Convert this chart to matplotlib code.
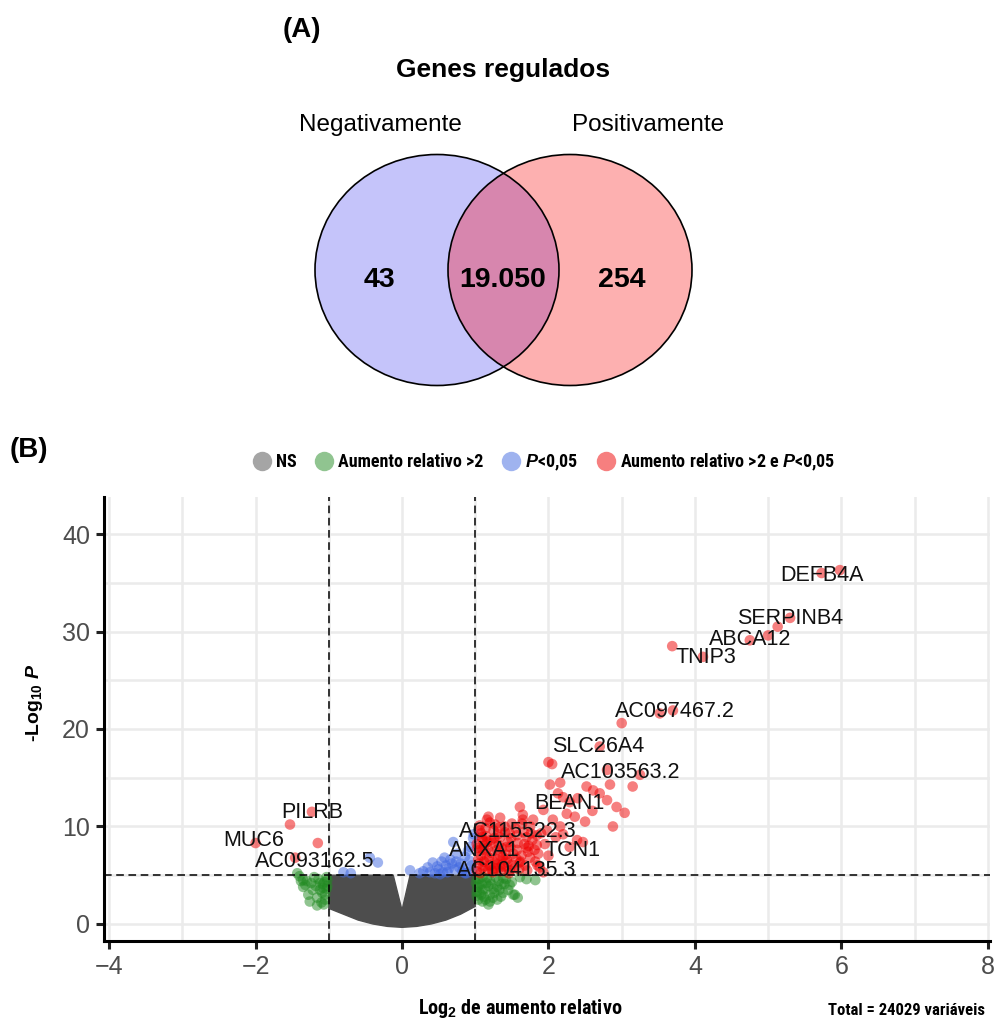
# -*- coding: utf-8 -*-
"""Venn diagram of regulated genes (A) and volcano plot (B)."""

import matplotlib
matplotlib.use('Agg')
import matplotlib.pyplot as plt
from matplotlib.patches import Ellipse
from matplotlib.lines import Line2D

plt.rcParams['font.family'] = ['Liberation Sans', 'DejaVu Sans']
plt.rcParams['mathtext.fontset'] = 'custom'
plt.rcParams['mathtext.rm'] = 'Liberation Sans'
plt.rcParams['mathtext.it'] = 'Liberation Sans:italic:bold'
plt.rcParams['mathtext.bf'] = 'Liberation Sans:bold'

# narrow bold text like the ggplot legend / axis titles
NARROW = ['Roboto Condensed', 'PT Sans Narrow', 'Archivo Narrow', 'Liberation Sans']

# %% Data

# Venn (A)
venn_sets = ['Negativamente', 'Positivamente']
venn_counts = ['43', '19.050', '254']  # only neg, both, only pos

# Volcano (B)
# NS cloud outline (log2FC, -log10 P)
ns_x = [-1.0, -0.12, 0.0, 0.11, 1.0, 1.0, 0.8, 0.6, 0.4, 0.2, 0.0, -0.2, -0.4, -0.6, -0.8, -1.0]
ns_y = [5.0, 5.0, 1.4, 5.0, 5.0, 1.8, 1.0, 0.4, 0.0, -0.25, -0.35, -0.25, 0.0, 0.4, 1.0, 1.6]

green_x = [-1.43, -1.35, -1.30, -1.22, -1.35, -1.16, -1.26, -1.08, -1.05, -1.12,
           -1.16, -1.12, -1.08, -1.05, -1.02, -1.20, -1.28, -1.10, -1.40, -1.03,
           1.10, 1.20, 1.38, 1.82, 1.52, 1.58, 1.38, 1.30, 1.10, 1.04,
           1.20, 1.61, 1.47, 1.54, 1.24, 1.10, 1.05, 1.08, 1.15, 1.25,
           1.32, 1.42, 1.50, 1.02, 1.12, 1.18, 1.28, 1.35, 1.45, 1.70,
           1.03, 1.20, 1.01, 1.03, 1.06, 1.09, 1.13, 1.16, 1.22, 1.26,
           1.33, 1.40, 1.06, 1.14, 1.02, 1.18, 1.30, 1.36, -1.03, -1.06,
           -1.09, -1.14, -1.18, -1.24, -1.32, -1.38, -1.02, -1.07]
green_y = [5.2, 4.5, 4.4, 3.5, 3.8, 2.7, 2.3, 3.7, 3.0, 4.2,
           1.9, 3.5, 4.1, 2.5, 4.5, 4.8, 3.0, 2.2, 4.9, 3.6,
           4.8, 4.5, 4.7, 4.5, 3.0, 2.7, 3.2, 3.8, 3.5, 2.5,
           2.3, 4.8, 4.0, 3.0, 2.7, 2.3, 4.0, 3.0, 4.2, 3.6,
           4.4, 4.6, 4.3, 3.3, 2.8, 3.9, 4.8, 2.8, 3.5, 4.6,
           4.6, 3.0, 4.2, 3.8, 4.6, 4.1, 3.6, 4.7, 4.1, 3.2,
           3.5, 4.1, 3.2, 2.5, 2.9, 2.0, 2.5, 4.1, 4.8, 4.3,
           3.2, 4.6, 3.9, 4.2, 4.0, 4.4, 3.9, 2.0]

blue_x = [-0.80, -0.44, -0.33, -0.70, 0.11, 0.29, 0.35, 0.42, 0.50, 0.54,
          0.60, 0.66, 0.70, 0.75, 0.80, 0.86, 0.90, 0.93, 0.97, 0.62,
          0.45, 0.82, 0.95, 0.72, 0.88, 0.98, 0.38, 0.48, 0.56, 0.64,
          0.68, 0.74, 0.78, 0.84, 0.92, 0.96, 0.52, 0.58, 0.86, 0.24]
blue_y = [5.3, 6.8, 6.3, 5.2, 5.5, 5.4, 5.8, 6.3, 5.6, 6.4,
          6.0, 6.6, 8.4, 7.2, 6.2, 6.9, 7.5, 7.9, 8.8, 5.3,
          5.2, 5.4, 6.0, 5.6, 5.2, 9.2, 5.3, 5.9, 5.3, 5.7,
          6.2, 6.4, 5.8, 5.6, 6.5, 5.5, 5.1, 6.8, 5.2, 5.2]

red_x = [5.98, 5.73, 5.30, 5.13, 5.00, 4.75, 3.69, 4.11, 3.52, 3.70,
         3.00, 2.70, 2.00, 2.05, 2.80, 3.25, 2.02, 2.16, 2.52, 2.84,
         3.15, 2.61, 2.70, 2.13, 2.80, 2.93, 3.04, 2.29, 2.36, 2.50,
         2.88, 1.61, 1.93, 1.34, 1.20, 1.65, 1.79, 2.06, 2.16, 1.98,
         1.84, 1.70, 1.47, 1.34, 2.39, 2.47, 2.29, 1.84, 1.70, 1.57,
         1.43, 1.24, 1.10, 1.06, 1.16, 1.30, 1.43, 1.75, 1.61, 1.34,
         1.10, 1.24, 1.47, 1.88, 1.93, 1.06, 1.16,
         1.02, 1.05, 1.08, 1.12, 1.15, 1.18, 1.20, 1.22, 1.25, 1.27,
         1.30, 1.32, 1.35, 1.38, 1.40, 1.42, 1.45, 1.50, 1.52, 1.55,
         1.58, 1.60, 1.63, 1.66, 1.68, 1.72, 1.75, 1.78, 1.82, 1.86,
         1.90, 1.95, 2.00, 2.10, 2.20, 2.25, 1.12, 1.28, 1.50, 1.65,
         2.40, 2.60, 2.20, 1.02, 1.08, 1.18,
         1.04, 1.07, 1.10, 1.13, 1.16, 1.19, 1.23, 1.26, 1.29, 1.33,
         1.36, 1.39, 1.44, 1.48, 1.53, 1.57, 1.62, 1.67, 1.71, 1.76,
         1.81, 1.85, 1.03, 1.09, 1.14, 1.21, 1.27, 1.34, 1.41, 1.46,
         1.56, 1.64, 1.73, 1.06, 1.17, 1.31, 1.37, 1.49,
         -1.23, -1.53, -2.00, -1.15, -1.46]
red_y = [36.3, 36.0, 31.4, 30.5, 29.6, 29.1, 28.5, 27.4, 21.6, 21.9,
         20.6, 18.2, 16.6, 16.4, 15.8, 15.3, 14.3, 14.5, 14.1, 14.3,
         14.1, 13.7, 13.4, 13.4, 12.7, 12.0, 11.4, 12.5, 11.0, 10.5,
         10.0, 12.0, 11.7, 10.9, 10.4, 10.7, 10.7, 10.7, 10.0, 9.6,
         9.1, 8.9, 9.3, 8.9, 8.6, 8.4, 7.9, 8.1, 7.8, 7.6,
         7.9, 8.3, 8.6, 7.6, 6.9, 6.6, 6.6, 6.8, 6.3, 5.8,
         5.8, 5.3, 5.5, 5.8, 5.3, 9.6, 10.7,
         5.4, 6.2, 7.0, 8.0, 9.0, 5.6, 6.0, 7.3, 9.6, 6.3,
         7.6, 8.1, 5.4, 6.9, 10.0, 7.1, 8.4, 6.1, 7.2, 9.8,
         8.3, 5.6, 7.0, 9.4, 6.0, 7.4, 10.0, 8.6, 6.4, 7.2,
         9.3, 8.2, 7.0, 8.9, 9.2, 11.3, 6.4, 5.7, 10.3, 11.2,
         12.9, 11.6, 13.0, 8.2, 9.3, 11.0,
         6.6, 5.2, 7.6, 5.9, 8.4, 6.8, 5.5, 8.8, 6.1, 9.9,
         7.8, 5.9, 6.3, 7.9, 5.7, 9.1, 6.4, 8.2, 5.5, 9.3,
         7.6, 6.0, 7.8, 8.9, 9.8, 8.6, 10.2, 7.0, 9.4, 5.2,
         6.7, 10.3, 8.0, 10.1, 7.8, 9.2, 6.1, 8.8,
         11.5, 10.2, 8.3, 8.3, 6.8]

gene_names = ['DEFB4A', 'SERPINB4', 'ABCA12', 'TNIP3', 'AC097467.2', 'SLC26A4',
              'AC103563.2', 'BEAN1', 'AC115522.3', 'ANXA1', 'TCN1', 'AC104135.3',
              'PILRB', 'MUC6', 'AC093162.5']
gene_x = [5.73, 5.30, 4.76, 4.15, 3.73, 2.68, 2.99, 2.29, 1.58, 1.12, 2.33, 1.57,
          -1.22, -2.02, -1.19]
gene_y = [35.7, 31.3, 29.2, 27.3, 21.8, 18.2, 15.5, 12.4, 9.5, 7.5, 7.5, 5.5,
          11.4, 8.6, 6.4]

legend_labels = ['NS', 'Aumento relativo >2', '$P$<0,05', 'Aumento relativo >2 e $P$<0,05']
col_ns, col_fc, col_p, col_both = '#4D4D4D', '#228B22', '#4169E1', '#EE0000'

# %% Figure
W, H = 995, 1021
fig = plt.figure(figsize=(W / 100, H / 100), dpi=100)

# (A) Venn, axes in pixel units
ax_v = fig.add_axes([0, 1 - 460 / H, 1, 460 / H])
ax_v.set_xlim(0, W)
ax_v.set_ylim(460, 0)
ax_v.axis('off')

left = Ellipse((437, 270), 244, 231, fc='#C5C4FA', ec='none')
right = Ellipse((570, 270), 244, 231, fc='#FDB0B0', ec='none')
ax_v.add_patch(left)
ax_v.add_patch(right)
both = Ellipse((437, 270), 244, 231, fc='#D786AE', ec='none')
ax_v.add_patch(both)
both.set_clip_path(right)
for cx in (437, 570):
    ax_v.add_patch(Ellipse((cx, 270), 244, 231, fc='none', ec='black', lw=1.2))

ax_v.text(380, 125, venn_sets[0], ha='center', va='center', fontsize=17.5)
ax_v.text(648, 125, venn_sets[1], ha='center', va='center', fontsize=17.5)
for xx, txt in zip([379, 503, 622], venn_counts):
    ax_v.text(xx, 280, txt, ha='center', va='center', fontsize=20.5, fontweight='bold')
ax_v.text(503, 70, 'Genes regulados', ha='center', va='center', fontsize=19, fontweight='bold')
ax_v.text(283, 30, '(A)', ha='left', va='center', fontsize=20, fontweight='bold')

# (B) Volcano
ax = fig.add_axes([104 / W, 80 / H, 886 / W, 444 / H])
ax.set_xlim(-4.07, 8.03)
ax.set_ylim(-1.75, 43.8)

ax.fill(ns_x, ns_y, fc=col_ns, ec=col_ns, lw=1, zorder=2)
ax.scatter(green_x, green_y, s=58, c=col_fc, alpha=0.5, edgecolors='none', zorder=3)
ax.scatter(blue_x, blue_y, s=58, c=col_p, alpha=0.5, edgecolors='none', zorder=3)
ax.scatter(red_x, red_y, s=58, c=col_both, alpha=0.5, edgecolors='none', zorder=3)

for xv in (-1, 1):
    ax.axvline(xv, color='black', ls=(0, (5, 3)), lw=1.1, zorder=4)
ax.axhline(5, color='black', ls=(0, (5, 3)), lw=1.1, zorder=4)

for name, gx, gy in zip(gene_names, gene_x, gene_y):
    ax.text(gx, gy, name, ha='center', va='center', fontsize=15.5, color='#111111', zorder=6)

ax.set_xticks([-4, -2, 0, 2, 4, 6, 8])
ax.set_xticks([-3, -1, 1, 3, 5, 7], minor=True)
ax.set_yticks([0, 10, 20, 30, 40])
ax.set_yticks([5, 15, 25, 35], minor=True)
ax.grid(which='both', color='#EBEBEB', lw=1.8)
ax.set_axisbelow(True)
ax.tick_params(which='major', length=6, width=2.2, color='#222222', labelsize=18,
               labelcolor='#4D4D4D', pad=4)
ax.tick_params(which='minor', length=0)
for side in ('top', 'right'):
    ax.spines[side].set_visible(False)
for side in ('left', 'bottom'):
    ax.spines[side].set_linewidth(2.2)

# legend
handles = [Line2D([], [], ls='none', marker='o', ms=14, mec='none', mfc=c, alpha=0.5)
           for c in (col_ns, col_fc, col_p, col_both)]
fig.legend(handles, legend_labels, loc='center', bbox_to_anchor=(544 / W, 1 - 462 / H),
           ncol=4, frameon=False, handlelength=1.0, handletextpad=0.3, columnspacing=1.0,
           prop={'family': NARROW, 'weight': 'bold', 'size': 13})

fig.text(10 / W, 1 - 450 / H, '(B)', ha='left', va='center', fontsize=20, fontweight='bold')
fig.text(520 / W, 1 - 1008 / H, r'Log$_{\mathbf{2}}$ de aumento relativo', ha='center',
         va='center', fontsize=14.5, fontweight='bold', family=NARROW)
fig.text(985 / W, 1 - 1010 / H, 'Total = 24029 variáveis', ha='right', va='center',
         fontsize=12, fontweight='bold', family=NARROW)
fig.text(35 / W, 1 - 703 / H, r'-Log$_{\mathbf{10}}$ $P$', ha='center', va='center',
         rotation=90, fontsize=14, fontweight='bold')

fig.savefig('out.png', dpi=100)
